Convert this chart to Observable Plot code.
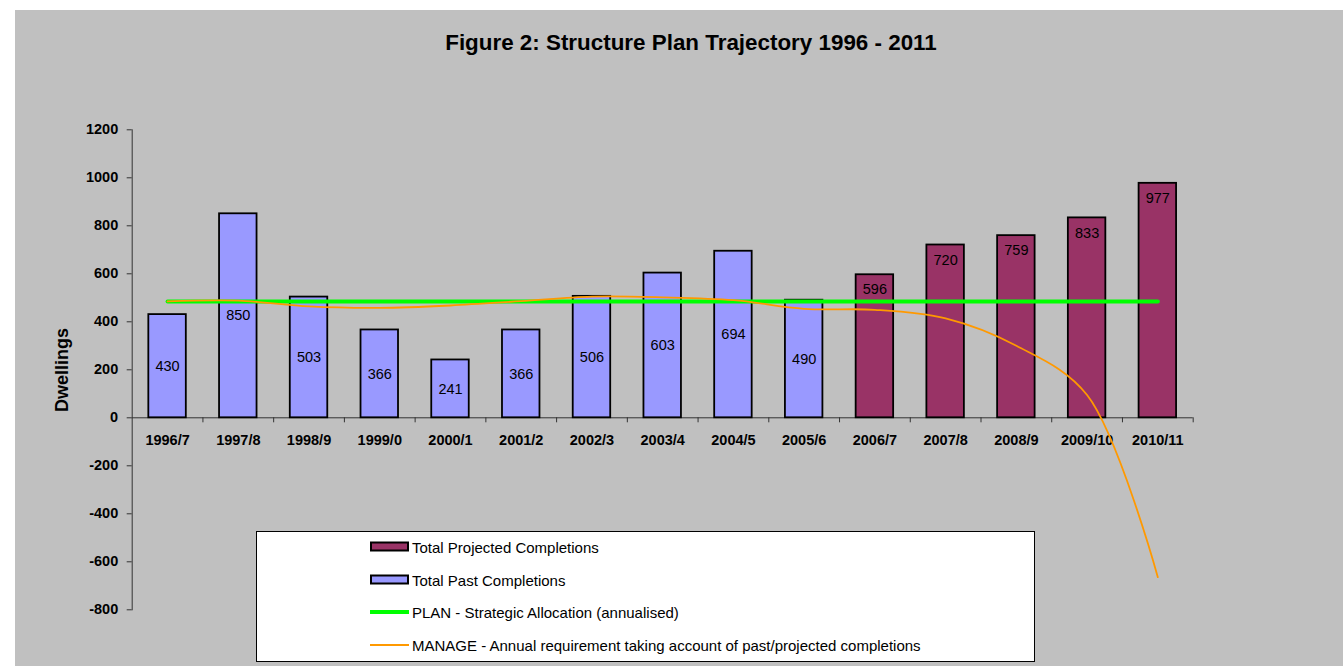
<!DOCTYPE html>
<html>
<head>
<meta charset="utf-8">
<script src="https://cdn.jsdelivr.net/npm/d3@7"></script>
<script src="https://cdn.jsdelivr.net/npm/@observablehq/plot@0.6"></script>
<style>
  body { margin: 0; background: #fff; font-family: Arial, "Liberation Sans", sans-serif; }
  #page { position: relative; width: 1343px; height: 666px; overflow: hidden; background: #fff; }
  #bg { position: absolute; left: 15px; top: 10px; right: 0; bottom: 0; background: #c0c0c0; }
  #chart { position: absolute; left: 0; top: 0; }
  #title { position: absolute; top: 30px; left: 0; width: 1382px; text-align: center; font-weight: bold; font-size: 22.4px; color: #000; }
  #ylabel { position: absolute; left: 62px; top: 370px; transform: translate(-50%, -50%) rotate(-90deg); font-weight: bold; font-size: 18px; white-space: nowrap; }
  #legend { position: absolute; left: 256px; top: 531px; width: 777px; height: 129px; background: #fff; border: 1px solid #000; z-index: 2; }
  .item { position: absolute; left: 113px; height: 20px; display: flex; align-items: center; font-size: 15px; white-space: nowrap; }
  .item svg { margin-right: 3px; }
</style>
</head>
<body>
<div id="page">
  <div id="bg"></div>
  <div id="chart"></div>
  <div id="title">Figure 2: Structure Plan Trajectory 1996 - 2011</div>
  <div id="ylabel">Dwellings</div>
  <div id="legend"></div>
</div>
<script>
// ---- Data ----
const categories = ["1996/7","1997/8","1998/9","1999/0","2000/1","2001/2","2002/3","2003/4","2004/5","2005/6","2006/7","2007/8","2008/9","2009/10","2010/11"];
const pastYears = ["1996/7","1997/8","1998/9","1999/0","2000/1","2001/2","2002/3","2003/4","2004/5","2005/6"];
const pastValues = [430, 850, 503, 366, 241, 366, 506, 603, 694, 490];
const projectedYears = ["2006/7","2007/8","2008/9","2009/10","2010/11"];
const projectedValues = [596, 720, 759, 833, 977];
const planValues = [485, 485, 485, 485, 485, 485, 485, 485, 485, 485, 485, 485, 485, 485, 485];
const manageValues = [485, 488, 464, 458, 468, 486, 505, 502, 490, 454, 450, 414, 300, 95, -664];
const yTicks = [-800, -600, -400, -200, 0, 200, 400, 600, 800, 1000, 1200];

const legendItems = [
  {label: "Total Projected Completions", type: "bar", color: "#993366"},
  {label: "Total Past Completions", type: "bar", color: "#9999ff"},
  {label: "PLAN - Strategic Allocation (annualised)", type: "line", color: "#00ff00", width: 4},
  {label: "MANAGE - Annual requirement taking account of past/projected completions", type: "line", color: "#ff9900", width: 1.8}
];

// ---- Tables ----
const past = pastYears.map((year, i) => ({year, value: pastValues[i]}));
const projected = projectedYears.map((year, i) => ({year, value: projectedValues[i]}));
const plan = categories.map((year, i) => ({year, value: planValues[i]}));
const manage = categories.map((year, i) => ({year, value: manageValues[i]}));

// ---- Layout ----
const W = 1343, H = 666;
const mL = 131.7, mR = 150.3, mT = 129.3, mB = 56.7;
const step = (W - mL - mR) / categories.length;
const axisColor = "#333";

const chart = Plot.plot({
  width: W, height: H,
  marginLeft: mL, marginRight: mR, marginTop: mT, marginBottom: mB,
  style: {background: "transparent", fontFamily: "Arial, 'Liberation Sans', sans-serif", fontSize: "14.5px", color: "#000", overflow: "visible"},
  x: {type: "band", domain: categories, paddingInner: 0.47, paddingOuter: 0.235, round: false, axis: null},
  y: {domain: [-800, 1200], axis: null},
  marks: [
    Plot.axisY({ticks: yTicks, tickSize: 5, tickPadding: 9, tickFormat: d => String(d), fontWeight: "bold", fontSize: 14.5, label: null, stroke: axisColor, fill: "#000"}),
    Plot.frame({anchor: "left", stroke: axisColor}),
    Plot.ruleY([0], {stroke: axisColor}),
    Plot.ruleX(categories.slice(1), {x: d => d, y1: 0, y2: 0, insetBottom: -5, dx: -step / 2, stroke: axisColor}),
    Plot.ruleX(categories.slice(-1), {x: d => d, y1: 0, y2: 0, insetBottom: -5, dx: step / 2, stroke: axisColor}),
    Plot.barY(past, {x: "year", y: "value", fill: "#9999ff", stroke: "#000", strokeWidth: 1.8}),
    Plot.barY(projected, {x: "year", y: "value", fill: "#993366", stroke: "#000", strokeWidth: 1.8}),
    Plot.text(past, {x: "year", y: d => d.value / 2, text: d => String(d.value), fill: "#000", fontSize: 14.5}),
    Plot.text(projected, {x: "year", y: "value", dy: 15, text: d => String(d.value), fill: "#000", fontSize: 14.5}),
    Plot.text(categories, {x: d => d, y: 0, dy: 23, text: d => d, fontWeight: "bold", fill: "#000", fontSize: 14.5}),
    Plot.lineY(plan, {x: "year", y: "value", stroke: "#00ff00", strokeWidth: 4}),
    Plot.lineY(manage, {x: "year", y: "value", stroke: "#ff9900", strokeWidth: 1.8, curve: "catmull-rom"})
  ]
});
document.getElementById("chart").appendChild(chart);

// ---- Legend ----
const legend = document.getElementById("legend");
const rowTops = [5, 38, 70, 103];
legendItems.forEach((it, i) => {
  const row = document.createElement("div");
  row.className = "item";
  row.style.top = rowTops[i] + "px";
  const ns = "http://www.w3.org/2000/svg";
  const s = document.createElementNS(ns, "svg");
  s.setAttribute("width", 39); s.setAttribute("height", 12);
  if (it.type === "bar") {
    const r = document.createElementNS(ns, "rect");
    r.setAttribute("x", 1); r.setAttribute("y", 1.5); r.setAttribute("width", 37); r.setAttribute("height", 8);
    r.setAttribute("fill", it.color); r.setAttribute("stroke", "#000"); r.setAttribute("stroke-width", 2);
    s.appendChild(r);
  } else {
    const l = document.createElementNS(ns, "line");
    l.setAttribute("x1", 0); l.setAttribute("x2", 39); l.setAttribute("y1", 6); l.setAttribute("y2", 6);
    l.setAttribute("stroke", it.color); l.setAttribute("stroke-width", it.width);
    s.appendChild(l);
  }
  row.appendChild(s);
  const t = document.createElement("span");
  t.textContent = it.label;
  row.appendChild(t);
  legend.appendChild(row);
});
</script>
</body>
</html>
